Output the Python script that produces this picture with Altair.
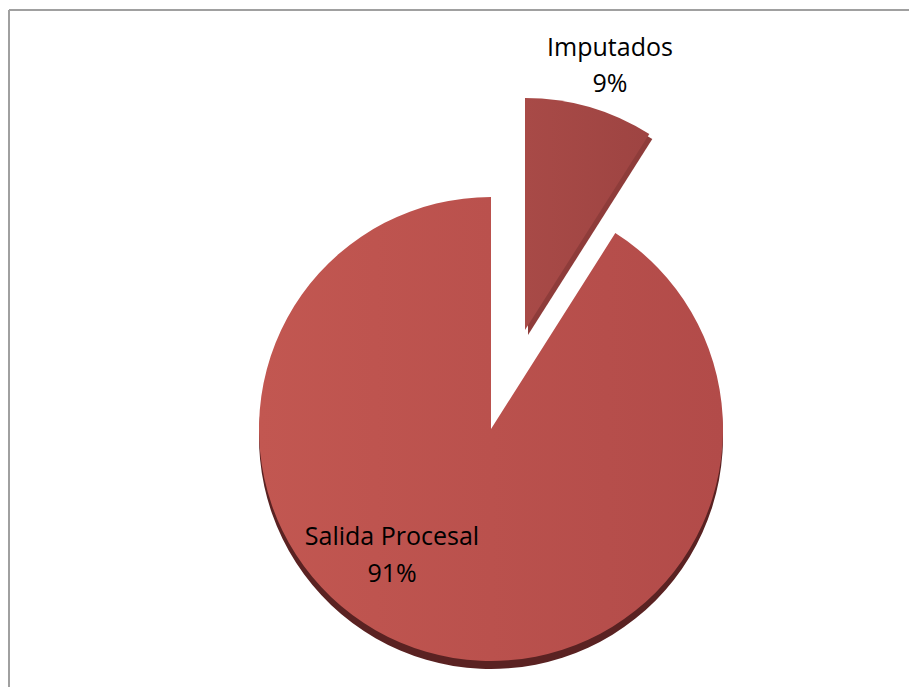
import altair as alt
import pandas as pd

categories = ["Imputados", "Salida Procesal"]
percents = [9, 91]
labels = ["9%", "91%"]

df = pd.DataFrame({"cat": categories, "pct": percents, "lab": labels})
df["start"] = df["pct"].cumsum() - df["pct"]
df["end"] = df["pct"].cumsum()

W, H = 901, 679
R = 232
main_c = (483, 421)
expl_c = (517, 322)

theta_scale = alt.Scale(domain=[0, 100], range=[0, 6.283185307])

def arc_layer(cat, center, fill, dy=0, dx=0):
    return alt.Chart(df).transform_filter(alt.datum.cat == cat).mark_arc(
        radius=R, x=center[0] + dx, y=center[1] + dy, fill=fill
    ).encode(
        theta=alt.Theta("start:Q", scale=theta_scale),
        theta2="end:Q",
    )

grad_main = alt.Gradient(
    gradient="linear",
    stops=[alt.GradientStop(color="#C25751", offset=0), alt.GradientStop(color="#B24B49", offset=1)],
    x1=0, x2=1, y1=0, y2=0,
)
grad_imp = alt.Gradient(
    gradient="linear",
    stops=[alt.GradientStop(color="#A84A47", offset=0), alt.GradientStop(color="#9E4442", offset=1)],
    x1=0, x2=1, y1=0, y2=0,
)

shadow_main = arc_layer("Salida Procesal", main_c, "#5A2222", dy=8)
shadow_imp = arc_layer("Imputados", expl_c, "#8E3C3A", dy=5, dx=3)
top_main = arc_layer("Salida Procesal", main_c, grad_main)
top_imp = arc_layer("Imputados", expl_c, grad_imp)

def text_layer(cat, field, x, y):
    return alt.Chart(df).transform_filter(alt.datum.cat == cat).mark_text(
        x=x, y=y, font="Open Sans", fontSize=25, color="#000000", align="center", baseline="middle"
    ).encode(text=f"{field}:N")

t1 = text_layer("Imputados", "cat", 602, 40)
t2 = text_layer("Imputados", "lab", 602, 76)
t3 = text_layer("Salida Procesal", "cat", 384, 529)
t4 = text_layer("Salida Procesal", "lab", 384, 566)

border_top = alt.Chart(df).mark_rule(color="#A0A0A0", strokeWidth=2).encode(
    x=alt.value(1), x2=alt.value(W + 20), y=alt.value(2)
)
border_left = alt.Chart(df).mark_rule(color="#A0A0A0", strokeWidth=2).encode(
    x=alt.value(1), y=alt.value(2), y2=alt.value(H + 20)
)

chart = alt.layer(
    shadow_main, shadow_imp, top_main, top_imp, t1, t2, t3, t4, border_top, border_left
).properties(
    width=W, height=H, padding=0,
    autosize=alt.AutoSizeParams(type="none"),
).configure_view(stroke=None)

chart.save("out.html", embed_options={"renderer": "svg", "actions": False})
